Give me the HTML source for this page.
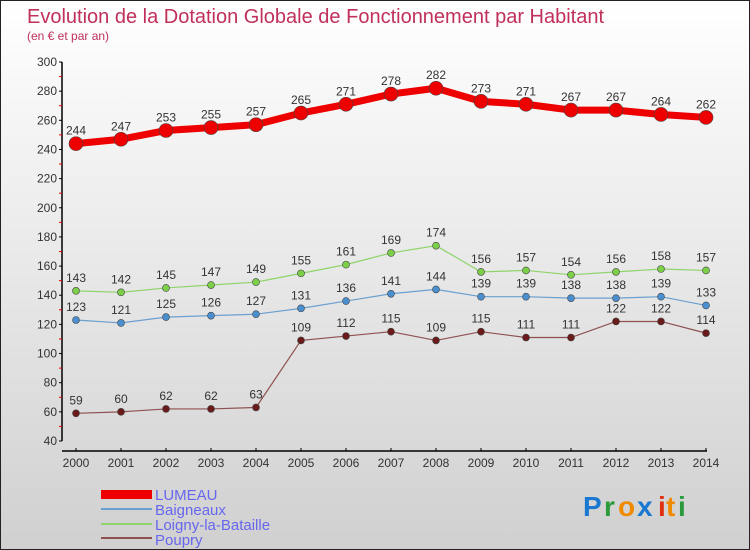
<!DOCTYPE html>
<html><head><meta charset="utf-8"><style>
body{margin:0}
#c{width:750px;height:550px;position:relative;box-sizing:border-box;border:1px solid #222;background:linear-gradient(#ffffff,#d0d0d0);overflow:hidden;font-family:"Liberation Sans",sans-serif}
</style></head><body>
<div id="c">
<svg id="s" width="748" height="548" style="position:absolute;left:0;top:0">
<text x="26" y="22" font-size="20" fill="#c0305a">Evolution de la Dotation Globale de Fonctionnement par Habitant</text>
<text x="26" y="39" font-size="12" fill="#c0305a">(en € et par an)</text>
<g id="axes"></g><g id="series"></g>
<g>
<rect x="100" y="489" width="51" height="9" fill="#e00"/>
<text x="154" y="499" font-size="15" fill="#6666ee">LUMEAU</text>
<rect x="100" y="507" width="51" height="2" fill="#6a9fcf"/>
<text x="154" y="514" font-size="15" fill="#6666ee">Baigneaux</text>
<rect x="100" y="522" width="51" height="2" fill="#8ed46a"/>
<text x="154" y="529" font-size="15" fill="#6666ee">Loigny-la-Bataille</text>
<rect x="100" y="536" width="51" height="2" fill="#8f5050"/>
<text x="154" y="544" font-size="15" fill="#6666ee">Poupry</text>
</g>
<g font-size="28" font-weight="bold">
<text x="582" y="515" fill="#1a78d0">P</text><text x="603" y="515" fill="#2a9a3a">r</text><text x="617" y="515" fill="#f08a00">o</text><text x="636" y="515" fill="#1a78d0">x</text><text x="657" y="515" fill="#e03010">i</text><text x="665" y="515" fill="#f08a00">t</text><text x="677" y="515" fill="#2a9a3a">i</text>
</g>
</svg>
</div>
<script>
const years=[2000,2001,2002,2003,2004,2005,2006,2007,2008,2009,2010,2011,2012,2013,2014];
const lumeau=[244,247,253,255,257,265,271,278,282,273,271,267,267,264,262];
const baigneaux=[123,121,125,126,127,131,136,141,144,139,139,138,138,139,133];
const loigny=[143,142,145,147,149,155,161,169,174,156,157,154,156,158,157];
const poupry=[59,60,62,62,63,109,112,115,109,115,111,111,122,122,114];
const yTicks=[40,60,80,100,120,140,160,180,200,220,240,260,280,300];
const NS="http://www.w3.org/2000/svg";
const xs=i=>75+i*(630/(years.length-1));
const ys=v=>61+(300-v)*(379/260);
function mk(t,a,p){const e=document.createElementNS(NS,t);for(const k in a)e.setAttribute(k,a[k]);p.appendChild(e);return e;}
const ax=document.getElementById('axes'),sr=document.getElementById('series');
const yl=mk('line',{x1:61,y1:61,x2:61,y2:440,stroke:'#000','stroke-width':1.5},ax);


const xl=mk('line',{x1:61,y1:450,x2:706,y2:450,stroke:'#000','stroke-width':1.5},ax);


yTicks.forEach(v=>{const y=ys(v);
mk('line',{x1:58,y1:y,x2:61,y2:y,stroke:'#000'},ax);
if(v<300)mk('line',{x1:58,y1:ys(v+10),x2:61,y2:ys(v+10),stroke:'#e00'},ax);
const t=mk('text',{x:56,y:y+4,'text-anchor':'end','font-size':12,fill:'#333'},ax);t.textContent=v;

});
years.forEach((yr,i)=>{const x=xs(i);
mk('line',{x1:x,y1:447,x2:x,y2:450,stroke:'#000'},ax);
const t=mk('text',{x:x,y:466,'text-anchor':'middle','font-size':12,fill:'#333'},ax);t.textContent=yr;

});
function draw(vals,color,lw,r,dot,name){
const g=mk('g',{},sr);


mk('polyline',{points:vals.map((v,i)=>xs(i)+','+ys(v)).join(' '),fill:'none',stroke:color,'stroke-width':lw},g);
vals.forEach((v,i)=>{const c=mk('circle',{cx:xs(i),cy:ys(v),r:r,fill:dot,stroke:'#444','stroke-width':0.6},g);


const t=mk('text',{x:xs(i),y:ys(v)-9,'text-anchor':'middle','font-size':12,fill:'#333'},g);t.textContent=v;

});}
draw(poupry,'#8f5050',1.2,3.5,'#6a1a1a','poupry');
draw(baigneaux,'#6a9fcf',1.2,3.5,'#4a8fd0','baigneaux');
draw(loigny,'#8ed46a',1.2,3.5,'#7cd048','loigny');
draw(lumeau,'#e00',7,7,'#e00','lumeau');
</script>
</body></html>
